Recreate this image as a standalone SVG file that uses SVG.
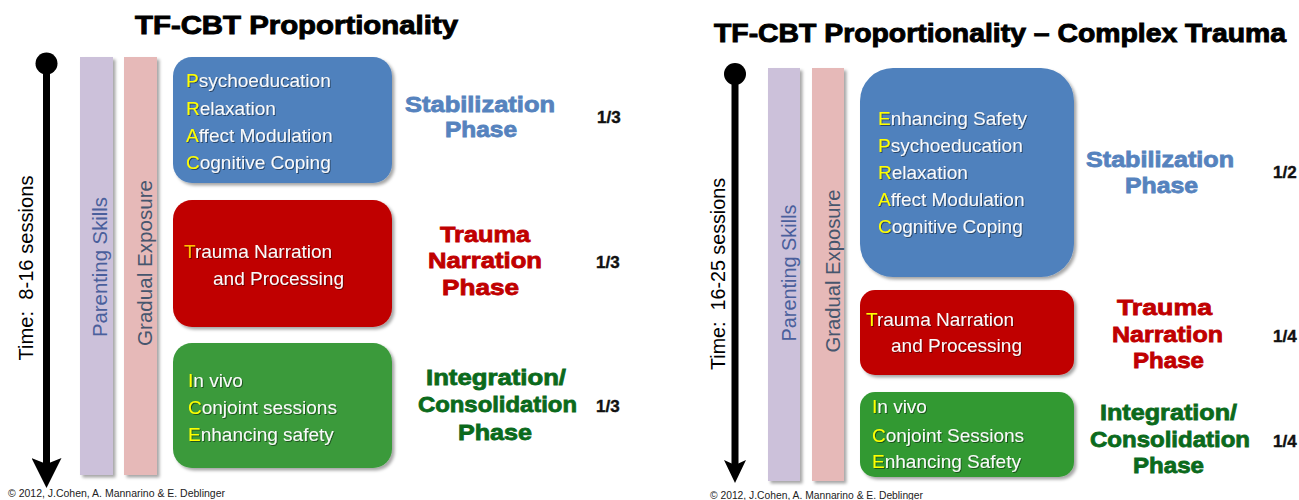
<svg xmlns="http://www.w3.org/2000/svg" width="1299" height="500" viewBox="0 0 1299 500">
<defs>
<style>
.title{font-family:"Liberation Sans",Arial,sans-serif;font-weight:bold;font-size:25px;fill:#000;stroke:#000;stroke-width:0.9px}
.box{font-family:"Liberation Sans",Arial,sans-serif;font-size:19px;fill:#fafafa}
.y{fill:#ffff00}
.o{fill:#ffc000}
.ph{font-family:"Liberation Sans",Arial,sans-serif;font-weight:bold;font-size:22px;stroke-width:0.8px}
.blue{fill:#5683be;stroke:#5683be}
.red{fill:#c00000;stroke:#c00000}
.green{fill:#0b6a1c;stroke:#0b6a1c}
.frac{font-family:"Liberation Sans",Arial,sans-serif;font-weight:bold;font-size:17px;fill:#111;stroke:#111;stroke-width:0.4px}
.vt{font-family:"Liberation Sans",Arial,sans-serif;font-size:20px}
.copy{font-family:"Liberation Sans",Arial,sans-serif;font-size:10.5px;fill:#222}
</style>
<filter id="sh" x="-10%" y="-10%" width="130%" height="130%">
<feDropShadow dx="2.5" dy="2.5" stdDeviation="1.5" flood-color="#000" flood-opacity="0.35"/>
</filter>
<filter id="tsh" x="-5%" y="-20%" width="110%" height="150%">
<feDropShadow dx="1" dy="1" stdDeviation="0.6" flood-color="#000" flood-opacity="0.45"/>
</filter>
<marker id="arrowL" markerUnits="userSpaceOnUse" viewBox="0 0 30 30" markerWidth="30" markerHeight="30" refX="6" refY="15" orient="auto">
<path d="M0,0 L30,15 L0,30 L6,15 Z" fill="#000"/>
</marker>
<marker id="arrowR" markerUnits="userSpaceOnUse" viewBox="0 0 23 22" markerWidth="23" markerHeight="22" refX="5" refY="11" orient="auto">
<path d="M0,0 L23,11 L0,22 L5,11 Z" fill="#000"/>
</marker>
</defs>
<rect width="1299" height="500" fill="#fff"/>

<!-- LEFT PANEL -->
<g id="title-left"><text class="title" x="135" y="34" textLength="323" lengthAdjust="spacingAndGlyphs">TF-CBT Proportionality</text></g>

<g id="connectors">
<circle cx="46.5" cy="63.5" r="11" fill="#000"/>
<line x1="46.5" y1="64" x2="46.5" y2="464" stroke="#000" stroke-width="7" marker-end="url(#arrowL)"/>
<circle cx="735" cy="74" r="11" fill="#000"/>
<line x1="735" y1="74" x2="735" y2="465" stroke="#000" stroke-width="7" marker-end="url(#arrowR)"/>
</g>

<g id="time-left"><text class="vt" fill="#000" x="33" y="268" text-anchor="middle" transform="rotate(-90 33 268)" textLength="185" lengthAdjust="spacingAndGlyphs" xml:space="preserve">Time:  8-16 sessions</text></g>

<g id="parenting-left">
<rect x="80" y="57" width="33" height="418" fill="#ccc1da" filter="url(#sh)"/>
<text class="vt" fill="#4a5f9c" x="107" y="267" text-anchor="middle" transform="rotate(-90 107 267)" textLength="140" lengthAdjust="spacingAndGlyphs">Parenting Skills</text>
</g>
<g id="exposure-left">
<rect x="124" y="57" width="33" height="418" fill="#e6b9b8" filter="url(#sh)"/>
<text class="vt" fill="#46566e" x="152" y="263" text-anchor="middle" transform="rotate(-90 152 263)" textLength="166" lengthAdjust="spacingAndGlyphs">Gradual Exposure</text>
</g>

<g id="stab-left">
<rect x="173" y="57" width="219" height="126" rx="19" fill="#4f81bd" filter="url(#sh)"/>
<g filter="url(#tsh)">
<text class="box" x="186" y="87"><tspan class="y">P</tspan>sychoeducation</text>
<text class="box" x="186" y="114.5"><tspan class="y">R</tspan>elaxation</text>
<text class="box" x="186" y="142"><tspan class="y">A</tspan>ffect Modulation</text>
<text class="box" x="186" y="169"><tspan class="y">C</tspan>ognitive Coping</text>
</g>
<text class="ph blue" x="405" y="112" textLength="150" lengthAdjust="spacingAndGlyphs">Stabilization</text>
<text class="ph blue" x="445" y="137" textLength="72" lengthAdjust="spacingAndGlyphs">Phase</text>
<text class="frac" x="597" y="123">1/3</text>
</g>

<g id="trauma-left">
<rect x="173" y="200" width="219" height="127" rx="19" fill="#c00000" filter="url(#sh)"/>
<g filter="url(#tsh)">
<text class="box" x="184" y="258"><tspan class="o">T</tspan>rauma Narration</text>
<text class="box" x="213" y="285">and Processing</text>
</g>
<text class="ph red" x="440" y="242" textLength="90" lengthAdjust="spacingAndGlyphs">Trauma</text>
<text class="ph red" x="428" y="268" textLength="114" lengthAdjust="spacingAndGlyphs">Narration</text>
<text class="ph red" x="442" y="295" textLength="77" lengthAdjust="spacingAndGlyphs">Phase</text>
<text class="frac" x="596" y="268">1/3</text>
</g>

<g id="integ-left">
<rect x="173" y="343" width="219" height="125" rx="19" fill="#3a9a3a" filter="url(#sh)"/>
<g filter="url(#tsh)">
<text class="box" x="188" y="387"><tspan class="y">I</tspan>n vivo</text>
<text class="box" x="188" y="414"><tspan class="y">C</tspan>onjoint sessions</text>
<text class="box" x="188" y="441"><tspan class="y">E</tspan>nhancing safety</text>
</g>
<text class="ph green" x="426" y="385" textLength="140" lengthAdjust="spacingAndGlyphs">Integration/</text>
<text class="ph green" x="418" y="412" textLength="159" lengthAdjust="spacingAndGlyphs">Consolidation</text>
<text class="ph green" x="458" y="440" textLength="74" lengthAdjust="spacingAndGlyphs">Phase</text>
<text class="frac" x="596" y="412">1/3</text>
</g>

<g id="copy-left"><text class="copy" x="8" y="497" textLength="217" lengthAdjust="spacingAndGlyphs">© 2012, J.Cohen, A. Mannarino &amp; E. Deblinger</text></g>

<!-- RIGHT PANEL -->
<g id="title-right"><text class="title" x="714" y="42" textLength="572" lengthAdjust="spacingAndGlyphs">TF-CBT Proportionality – Complex Trauma</text></g>

<g id="time-right"><text class="vt" fill="#000" x="725" y="274" text-anchor="middle" transform="rotate(-90 725 274)" textLength="192" lengthAdjust="spacingAndGlyphs" xml:space="preserve">Time:  16-25 sessions</text></g>

<g id="parenting-right">
<rect x="768" y="68" width="32" height="413" fill="#ccc1da" filter="url(#sh)"/>
<text class="vt" fill="#4a5f9c" x="796" y="273" text-anchor="middle" transform="rotate(-90 796 273)" textLength="137" lengthAdjust="spacingAndGlyphs">Parenting Skills</text>
</g>
<g id="exposure-right">
<rect x="812" y="68" width="32" height="413" fill="#e6b9b8" filter="url(#sh)"/>
<text class="vt" fill="#46566e" x="840" y="271" text-anchor="middle" transform="rotate(-90 840 271)" textLength="163" lengthAdjust="spacingAndGlyphs">Gradual Exposure</text>
</g>

<g id="stab-right">
<rect x="860" y="68" width="214" height="209" rx="33" fill="#4f81bd" filter="url(#sh)"/>
<g filter="url(#tsh)">
<text class="box" x="878" y="125"><tspan class="y">E</tspan>nhancing Safety</text>
<text class="box" x="878" y="152"><tspan class="y">P</tspan>sychoeducation</text>
<text class="box" x="878" y="179"><tspan class="y">R</tspan>elaxation</text>
<text class="box" x="878" y="206"><tspan class="y">A</tspan>ffect Modulation</text>
<text class="box" x="878" y="233"><tspan class="y">C</tspan>ognitive Coping</text>
</g>
<text class="ph blue" x="1086" y="167" textLength="148" lengthAdjust="spacingAndGlyphs">Stabilization</text>
<text class="ph blue" x="1125" y="193" textLength="73" lengthAdjust="spacingAndGlyphs">Phase</text>
<text class="frac" x="1273" y="178">1/2</text>
</g>

<g id="trauma-right">
<rect x="860" y="290" width="214" height="85" rx="15" fill="#c00000" filter="url(#sh)"/>
<g filter="url(#tsh)">
<text class="box" x="866" y="326"><tspan class="y">T</tspan>rauma Narration</text>
<text class="box" x="891" y="352">and Processing</text>
</g>
<text class="ph red" x="1117" y="315" textLength="95" lengthAdjust="spacingAndGlyphs">Trauma</text>
<text class="ph red" x="1112" y="342" textLength="111" lengthAdjust="spacingAndGlyphs">Narration</text>
<text class="ph red" x="1133" y="368" textLength="71" lengthAdjust="spacingAndGlyphs">Phase</text>
<text class="frac" x="1273" y="342">1/4</text>
</g>

<g id="integ-right">
<rect x="860" y="392" width="214" height="85" rx="15" fill="#339933" filter="url(#sh)"/>
<g filter="url(#tsh)">
<text class="box" x="872" y="413"><tspan class="y">I</tspan>n vivo</text>
<text class="box" x="872" y="442"><tspan class="y">C</tspan>onjoint Sessions</text>
<text class="box" x="872" y="468"><tspan class="y">E</tspan>nhancing Safety</text>
</g>
<text class="ph green" x="1100" y="420" textLength="137" lengthAdjust="spacingAndGlyphs">Integration/</text>
<text class="ph green" x="1090" y="447" textLength="160" lengthAdjust="spacingAndGlyphs">Consolidation</text>
<text class="ph green" x="1133" y="473" textLength="71" lengthAdjust="spacingAndGlyphs">Phase</text>
<text class="frac" x="1273" y="447">1/4</text>
</g>

<g id="copy-right"><text class="copy" x="710" y="499" textLength="213" lengthAdjust="spacingAndGlyphs">© 2012, J.Cohen, A. Mannarino &amp; E. Deblinger</text></g>
</svg>
